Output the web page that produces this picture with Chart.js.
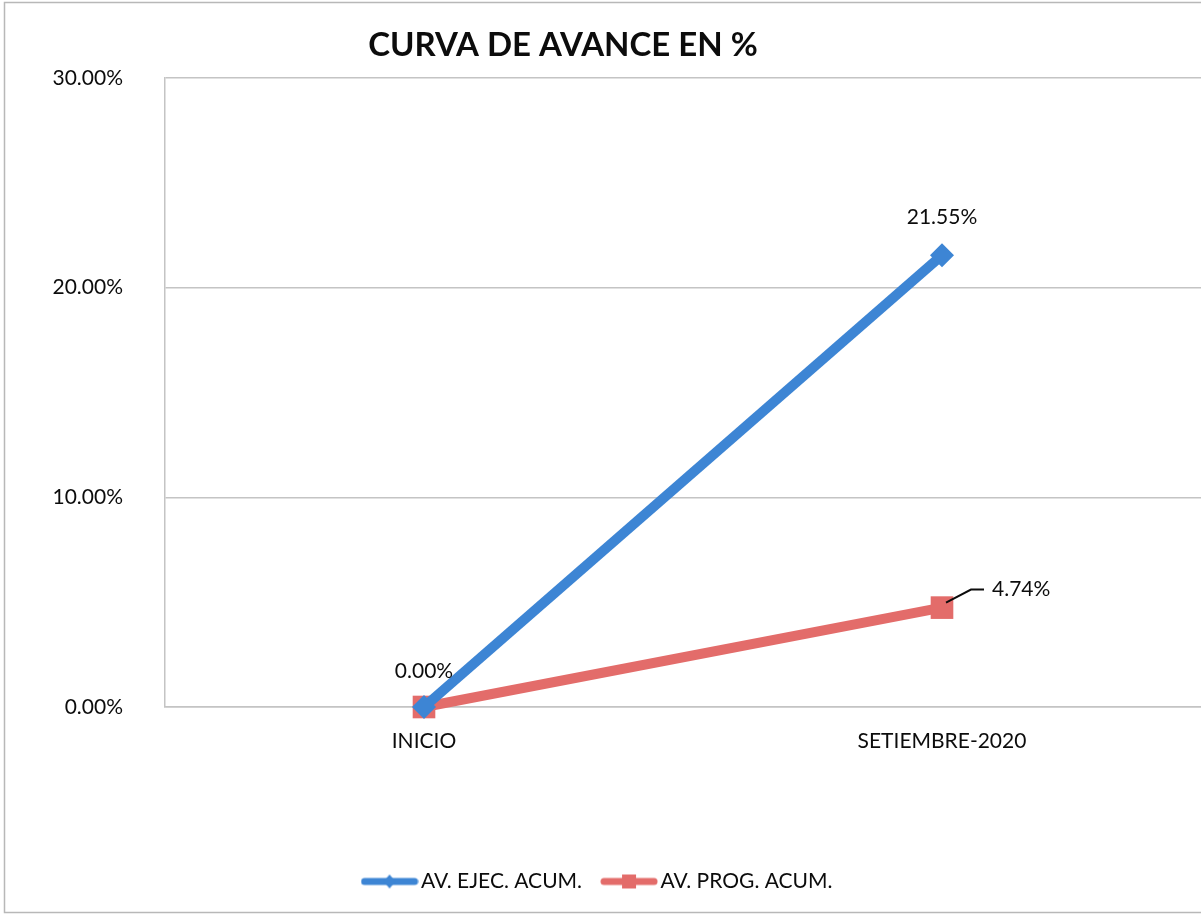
<!DOCTYPE html>
<html>
<head>
<meta charset="utf-8">
<title>Curva de avance</title>
<script src="https://cdn.jsdelivr.net/npm/chart.js@4/dist/chart.umd.min.js"></script>
<style>
  html, body { margin: 0; padding: 0; background: #ffffff; overflow: hidden; }
  canvas { display: block; }
</style>
</head>
<body>
<canvas id="avance" width="1201" height="916"></canvas>
<script>
// Chart data
const categories = ['INICIO', 'SETIEMBRE-2020'];
const ejecutado = [0, 21.55];
const programado = [0, 4.74];
const yTicks = [0, 10, 20, 30];
const chartTitle = 'CURVA DE AVANCE EN %';

const BLUE = '#3D85D4';
const RED = '#E36C6A';
const TEXT = '#0c0c0c';
const FONT = 'Lato, "Open Sans", sans-serif';

// Legend swatch: thick line with the series marker in the middle
function legendSwatch(color, marker) {
  const c = document.createElement('canvas');
  c.width = 58;
  c.height = 20;
  const g = c.getContext('2d');
  g.strokeStyle = color;
  g.lineWidth = 7;
  g.lineCap = 'round';
  g.beginPath();
  g.moveTo(4, 10);
  g.lineTo(54, 10);
  g.stroke();
  g.fillStyle = color;
  if (marker === 'diamond') {
    g.beginPath();
    g.moveTo(29, 3);
    g.lineTo(35, 10);
    g.lineTo(29, 17);
    g.lineTo(23, 10);
    g.closePath();
    g.fill();
  } else {
    g.fillRect(22, 3, 14, 14);
  }
  return c;
}

// White background, outer frame and the title
const framePlugin = {
  id: 'frame',
  beforeDraw(chart) {
    const ctx = chart.ctx;
    ctx.save();
    ctx.fillStyle = '#ffffff';
    ctx.fillRect(0, 0, chart.width, chart.height);
    ctx.strokeStyle = '#b8b8b8';
    ctx.lineWidth = 1.5;
    ctx.strokeRect(4.5, 2.5, chart.width + 10, 910);

    ctx.font = 'bold 33px ' + FONT;
    ctx.fillStyle = TEXT;
    ctx.textAlign = 'center';
    ctx.textBaseline = 'middle';
    ctx.fillText(chartTitle, 563, 45);
    ctx.restore();
  }
};

// Value labels next to the points
const valueLabels = {
  id: 'valueLabels',
  afterDatasetsDraw(chart) {
    const ctx = chart.ctx;
    ctx.save();
    ctx.font = '21px ' + FONT;
    ctx.fillStyle = TEXT;
    ctx.textBaseline = 'middle';

    const blue = chart.getDatasetMeta(0).data;
    const red = chart.getDatasetMeta(1).data;

    // 21.55% above the blue marker
    ctx.textAlign = 'center';
    ctx.fillText(ejecutado[1].toFixed(2) + '%', blue[1].x, blue[1].y - 38);

    // 0.00% above the start point
    ctx.fillText(programado[0].toFixed(2) + '%', red[0].x, red[0].y - 36);

    // 4.74% to the right, with a leader line
    const p = red[1];
    ctx.strokeStyle = TEXT;
    ctx.lineWidth = 2;
    ctx.beginPath();
    ctx.moveTo(p.x + 4, p.y - 5);
    ctx.lineTo(p.x + 29, p.y - 18);
    ctx.lineTo(p.x + 42, p.y - 18);
    ctx.stroke();
    ctx.textAlign = 'left';
    ctx.fillText(programado[1].toFixed(2) + '%', p.x + 50, p.y - 18);
    ctx.restore();
  }
};

new Chart(document.getElementById('avance'), {
  type: 'line',
  data: {
    labels: categories,
    datasets: [{
      label: 'AV. EJEC. ACUM.',
      data: ejecutado,
      borderColor: BLUE,
      backgroundColor: BLUE,
      borderWidth: 10,
      pointStyle: 'rectRot',
      pointRadius: 12,
      pointBorderWidth: 0,
      pointBackgroundColor: BLUE,
      tension: 0,
      clip: false
    }, {
      label: 'AV. PROG. ACUM.',
      data: programado,
      borderColor: RED,
      backgroundColor: RED,
      borderWidth: 10,
      pointStyle: 'rect',
      pointRadius: 16,
      pointBorderWidth: 0,
      pointBackgroundColor: RED,
      tension: 0,
      clip: false
    }]
  },
  options: {
    responsive: false,
    animation: false,
    // no extra room for point overflow: plot area runs to the right edge
    layout: { autoPadding: false, padding: { left: 0, right: 0, top: 78, bottom: 14 } },
    plugins: {
      title: { display: false },
      legend: {
        position: 'bottom',
        labels: {
          color: TEXT,
          font: { family: FONT, size: 21 },
          usePointStyle: true,
          pointStyleWidth: 42,
          padding: 26,
          generateLabels(chart) {
            return chart.data.datasets.map((ds, i) => ({
              text: ds.label,
              fillStyle: ds.borderColor,
              strokeStyle: ds.borderColor,
              lineWidth: 0,
              pointStyle: legendSwatch(ds.borderColor, i === 0 ? 'diamond' : 'square'),
              datasetIndex: i,
              fontColor: TEXT
            }));
          }
        }
      },
      tooltip: { enabled: false }
    },
    scales: {
      x: {
        offset: true,
        grid: { display: false, drawTicks: false },
        border: { display: true, color: '#c4c4c4', width: 1.5 },
        ticks: {
          color: TEXT,
          font: { family: FONT, size: 21 },
          padding: 22
        },
        afterFit(scale) { scale.height = 138; }
      },
      y: {
        min: 0,
        max: 30,
        afterBuildTicks(scale) {
          scale.ticks = yTicks.map(v => ({ value: v }));
        },
        grid: { color: '#c4c4c4', lineWidth: 1.5, drawTicks: false },
        border: { display: true, color: '#c4c4c4', width: 1.5 },
        ticks: {
          color: TEXT,
          font: { family: FONT, size: 21 },
          padding: 42,
          callback: v => v.toFixed(2) + '%'
        },
        afterFit(scale) { scale.width = 165; }
      }
    }
  },
  plugins: [framePlugin, valueLabels]
});
</script>
</body>
</html>
